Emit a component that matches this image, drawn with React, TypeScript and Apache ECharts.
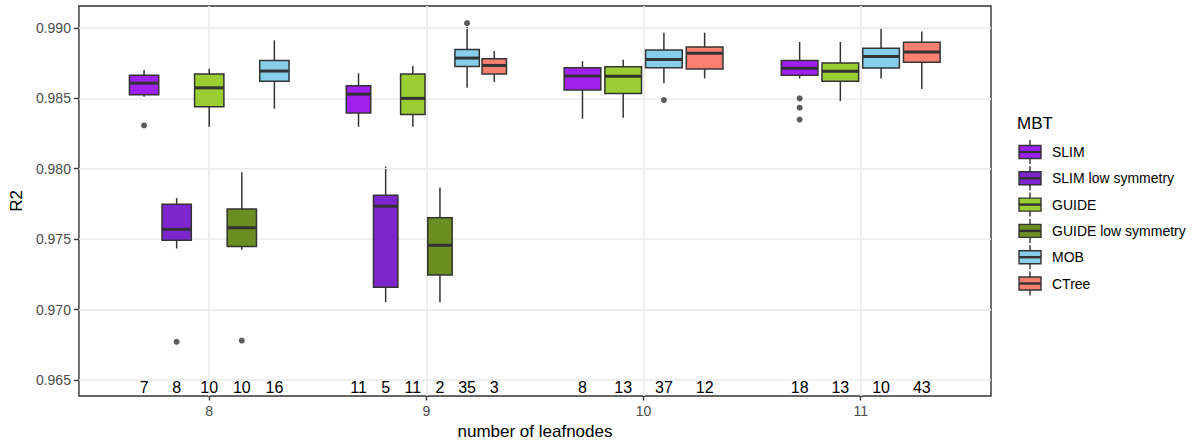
import React, { useEffect, useRef } from "react";
import * as echarts from "echarts";

const leafnodeTicks = [8, 9, 10, 11];
const r2Ticks = [0.965, 0.97, 0.975, 0.98, 0.985, 0.99];
const r2MinorTicks = [0.9675, 0.9725, 0.9775, 0.9825, 0.9875];
const methods = ["SLIM", "SLIM low symmetry", "GUIDE", "GUIDE low symmetry", "MOB", "CTree"];
const methodColors = ["#A020F0", "#7D26CD", "#9ACD32", "#6B8E23", "#87CEEB", "#FA8072"];

const boxLeafnodes = [8, 8, 8, 8, 8, 9, 9, 9, 9, 9, 9, 10, 10, 10, 10, 11, 11, 11, 11];
const boxMethods = [
  "SLIM", "SLIM low symmetry", "GUIDE", "GUIDE low symmetry", "MOB",
  "SLIM", "SLIM low symmetry", "GUIDE", "GUIDE low symmetry", "MOB", "CTree",
  "SLIM", "GUIDE", "MOB", "CTree",
  "SLIM", "GUIDE", "MOB", "CTree",
];
const boxLower = [
  0.98511, 0.97434, 0.98298, 0.97425, 0.98426,
  0.98298, 0.97053, 0.98298, 0.97053, 0.98574, 0.98616,
  0.98354, 0.98361, 0.98607, 0.9864,
  0.9864, 0.9848, 0.9864, 0.98565,
];
const boxQ1 = [
  0.98525, 0.97492, 0.9844, 0.97448, 0.98621,
  0.98396, 0.9716, 0.98384, 0.97246, 0.98726, 0.98672,
  0.98558, 0.98534, 0.98717, 0.98707,
  0.98663, 0.98621, 0.98714, 0.98756,
];
const boxMedian = [
  0.98607, 0.9757, 0.98574, 0.97581, 0.98693,
  0.98529, 0.97734, 0.98499, 0.97457, 0.98785, 0.98733,
  0.98658, 0.98656, 0.98775, 0.9882,
  0.98712, 0.98691, 0.98796, 0.98829,
];
const boxQ3 = [
  0.98663, 0.97748, 0.98672, 0.97715, 0.98768,
  0.98588, 0.97811, 0.98672, 0.97652, 0.98846, 0.9878,
  0.98717, 0.98724, 0.98843, 0.98864,
  0.98768, 0.9875, 0.98855, 0.98897,
];
const boxUpper = [
  0.987, 0.97792, 0.9871, 0.97975, 0.98911,
  0.98677, 0.98015, 0.98728, 0.97867, 0.99005, 0.98836,
  0.98763, 0.98773, 0.98965, 0.98965,
  0.98899, 0.98899, 0.98995, 0.98974,
];
const boxCounts = [7, 8, 10, 10, 16, 11, 5, 11, 2, 35, 3, 8, 13, 37, 12, 18, 13, 10, 43];

const outlierLeafnodes = [8, 8, 8, 9, 10, 11, 11, 11];
const outlierMethods = ["SLIM", "SLIM low symmetry", "GUIDE low symmetry", "MOB", "MOB", "SLIM", "SLIM", "SLIM"];
const outlierR2 = [0.98307, 0.96772, 0.96781, 0.99033, 0.98487, 0.98499, 0.98433, 0.98349];

const countLabelR2 = 0.9645;

const FONT = '"Liberation Sans", Arial, Helvetica, sans-serif';
const DODGE = 0.75;

function dodge(leaf: number, method: string) {
  const present = methods.filter((m) =>
    boxLeafnodes.some((l, i) => l === leaf && boxMethods[i] === m)
  );
  const n = present.length;
  const i = present.indexOf(method);
  return { x: leaf - DODGE / 2 + ((i + 0.5) * DODGE) / n, half: ((DODGE / n) * 0.9) / 2 };
}

export default function App() {
  const ref = useRef<HTMLDivElement>(null);
  useEffect(() => {
    if (!ref.current) return;
    const chart = echarts.init(ref.current, undefined, { renderer: "svg" });

    const boxData = boxLeafnodes.map((leaf, i) => {
      const d = dodge(leaf, boxMethods[i]);
      return [d.x, boxLower[i], boxQ1[i], boxMedian[i], boxQ3[i], boxUpper[i], d.half, methods.indexOf(boxMethods[i])];
    });
    const countData = boxLeafnodes.map((leaf, i) => [dodge(leaf, boxMethods[i]).x, countLabelR2, boxCounts[i]]);
    const outlierData = outlierLeafnodes.map((leaf, i) => [dodge(leaf, outlierMethods[i]).x, outlierR2[i]]);

    const legendChildren: any[] = [
      {
        type: "text",
        x: 1017,
        y: 123,
        style: { text: "MBT", fontSize: 17, fontFamily: FONT, fill: "#000", verticalAlign: "middle", align: "left" },
      },
    ];
    methods.forEach((m, i) => {
      const cy = 152 + i * 26.3;
      const kx0 = 1019;
      const kx1 = 1041;
      const kc = (kx0 + kx1) / 2;
      legendChildren.push(
        { type: "line", shape: { x1: kc, y1: cy - 12, x2: kc, y2: cy + 12 }, style: { stroke: "#333", lineWidth: 1.4 } },
        { type: "rect", shape: { x: kx0, y: cy - 6.5, width: kx1 - kx0, height: 13 }, style: { fill: methodColors[i], stroke: "#333", lineWidth: 1.4 } },
        { type: "line", shape: { x1: kx0, y1: cy, x2: kx1, y2: cy }, style: { stroke: "#333", lineWidth: 2.4 } },
        {
          type: "text",
          x: 1052,
          y: cy,
          style: { text: m, fontSize: 14, fontFamily: FONT, fill: "#000", verticalAlign: "middle", align: "left" },
        }
      );
    });

    chart.setOption({
      animation: false,
      backgroundColor: "#fff",
      grid: {
        left: 71,
        right: 210,
        top: 6,
        bottom: 45,
        show: true,
        borderColor: "#333",
        borderWidth: 1.4,
        backgroundColor: "#fff",
      },
      xAxis: {
        type: "value",
        min: 7.4,
        max: 11.6,
        name: "number of leafnodes",
        nameLocation: "middle",
        nameGap: 27,
        nameTextStyle: { fontSize: 17, fontFamily: FONT, color: "#000" },
        axisLine: { show: false },
        axisTick: { show: true, length: 4.5, customValues: leafnodeTicks, lineStyle: { color: "#333", width: 1.4 } },
        axisLabel: {
          show: true,
          customValues: leafnodeTicks,
          fontSize: 14,
          fontFamily: FONT,
          color: "#4D4D4D",
          margin: 8,
          formatter: (v: number) => String(v),
        },
        splitLine: { show: true, lineStyle: { color: "#EBEBEB", width: 1.6 } },
      },
      yAxis: {
        type: "value",
        min: 0.963876,
        max: 0.991545,
        name: "R2",
        nameLocation: "middle",
        nameGap: 44,
        nameTextStyle: { fontSize: 17, fontFamily: FONT, color: "#000" },
        axisLine: { show: false },
        axisTick: { show: true, length: 5, customValues: r2Ticks, lineStyle: { color: "#333", width: 1.4 } },
        axisLabel: {
          show: true,
          customValues: r2Ticks,
          fontSize: 14,
          fontFamily: FONT,
          color: "#4D4D4D",
          margin: 8,
          formatter: (v: number) => v.toFixed(3),
        },
        splitLine: { show: true, lineStyle: { color: "#EBEBEB", width: 1.6 } },
      },
      series: [
        {
          type: "line",
          data: [],
          silent: true,
          z: 1,
          markLine: {
            silent: true,
            symbol: ["none", "none"],
            label: { show: false },
            lineStyle: { color: "#EBEBEB", width: 0.9, type: "solid" },
            emphasis: { disabled: true },
            data: r2MinorTicks.map((v) => ({ yAxis: v })),
          },
        },
        {
          type: "custom",
          z: 3,
          silent: true,
          data: boxData,
          encode: { x: 0, y: [1, 5] },
          renderItem: (params: any, api: any) => {
            const x = api.value(0);
            const lo = api.value(1);
            const q1 = api.value(2);
            const med = api.value(3);
            const q3 = api.value(4);
            const hi = api.value(5);
            const half = api.value(6);
            const ci = api.value(7);
            const tl = api.coord([x - half, q3]);
            const br = api.coord([x + half, q1]);
            const pm = api.coord([x, med]);
            const plo = api.coord([x, lo]);
            const phi = api.coord([x, hi]);
            const st = { stroke: "#333", lineWidth: 1.5 };
            return {
              type: "group",
              children: [
                { type: "line", shape: { x1: pm[0], y1: phi[1], x2: pm[0], y2: tl[1] }, style: st },
                { type: "line", shape: { x1: pm[0], y1: br[1], x2: pm[0], y2: plo[1] }, style: st },
                {
                  type: "rect",
                  shape: { x: tl[0], y: tl[1], width: br[0] - tl[0], height: br[1] - tl[1] },
                  style: { fill: methodColors[ci], stroke: "#333", lineWidth: 1.5 },
                },
                { type: "line", shape: { x1: tl[0], y1: pm[1], x2: br[0], y2: pm[1] }, style: { stroke: "#333", lineWidth: 3 } },
              ],
            };
          },
        },
        {
          type: "scatter",
          z: 4,
          silent: true,
          symbol: "circle",
          symbolSize: 6,
          itemStyle: { color: "#333" },
          data: outlierData,
        },
        {
          type: "custom",
          z: 5,
          silent: true,
          data: countData,
          encode: { x: 0, y: 1 },
          renderItem: (params: any, api: any) => {
            const p = api.coord([api.value(0), api.value(1)]);
            return {
              type: "text",
              x: p[0],
              y: p[1],
              style: {
                text: String(api.value(2)),
                fontSize: 16,
                fontFamily: FONT,
                fill: "#000",
                align: "center",
                verticalAlign: "middle",
              },
            };
          },
        },
      ],
      graphic: { elements: [{ type: "group", children: legendChildren }] },
    });
    return () => chart.dispose();
  }, []);
  return <div ref={ref} style={{ position: "absolute", left: 0, top: 0, width: 1201, height: 445 }} />;
}
